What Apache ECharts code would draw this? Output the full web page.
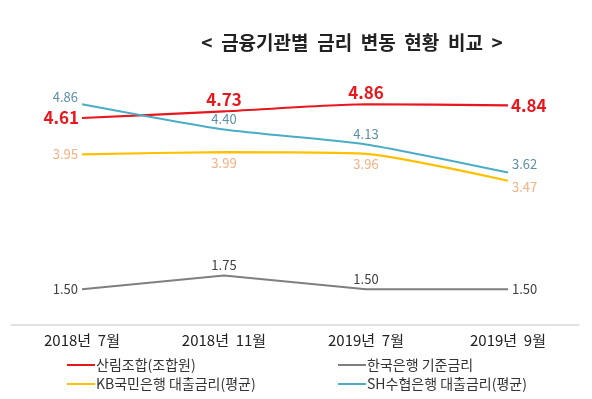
<!DOCTYPE html>
<html>
<head>
<meta charset="utf-8">
<script src="https://cdn.jsdelivr.net/npm/echarts@6/dist/echarts.min.js"></script>
<style>
  html, body { margin: 0; padding: 0; background: #fff; }
  #chart { width: 592px; height: 399px; }
</style>
</head>
<body>
<div id="chart"></div>
<script>
// 데이터
const months = ['2018년  7월', '2018년  11월', '2019년  7월', '2019년  9월']
const sanrim = [4.61, 4.73, 4.86, 4.84]
const bok = [1.50, 1.75, 1.50, 1.50]
const kb = [3.95, 3.99, 3.96, 3.47]
const sh = [4.86, 4.40, 4.13, 3.62]

const seriesNames = ['산림조합(조합원)', '한국은행 기준금리', 'KB국민은행 대출금리(평균)', 'SH수협은행 대출금리(평균)']

const font = '"Noto Sans CJK KR", "Noto Sans", sans-serif'

// 점마다 라벨 위치 지정
const withLabels = (values, positions) =>
  values.map((v, i) => ({
    value: v,
    label: { position: positions[i] }
  }))

const legendStyle = {
  orient: 'vertical',
  top: 353,
  itemGap: 5,
  itemWidth: 28,
  itemHeight: 2,
  icon: 'rect',
  textStyle: { fontFamily: font, fontSize: 14, color: '#333', padding: [0, 0, 0, -4] }
}

const chart = echarts.init(document.getElementById('chart'))

const option = {
  animation: false,
  title: {
    text: '<  금융기관별  금리  변동  현황  비교  >',
    left: 347,
    top: 28,
    textAlign: 'center',
    textStyle: { fontFamily: font, fontSize: 19, fontWeight: 'bold', color: '#222' }
  },
  grid: { left: 11, right: 13, top: 69, bottom: 74 },
  legend: [
    Object.assign({ data: [seriesNames[0], seriesNames[2]], left: 62 }, legendStyle),
    Object.assign({ data: [seriesNames[1], seriesNames[3]], left: 333 }, legendStyle)
  ],
  xAxis: {
    type: 'category',
    data: months,
    boundaryGap: true,
    axisLine: { lineStyle: { color: '#d9d9d9', width: 1.5 } },
    axisTick: { show: false },
    axisLabel: { margin: 8, fontFamily: font, fontSize: 15, color: '#222' }
  },
  yAxis: {
    type: 'value',
    min: 0.85,
    max: 5.5,
    show: false,
    splitLine: { show: false }
  },
  series: [
    {
      name: seriesNames[0],
      type: 'line',
      smooth: 0.2,
      symbol: 'circle',
      symbolSize: 0,
      lineStyle: { color: '#e8161d', width: 2.2 },
      itemStyle: { color: '#e8161d' },
      label: { show: true, formatter: p => p.value.toFixed(2), fontFamily: font, fontSize: 17, fontWeight: 'bold', color: '#e8161d', distance: 3 },
      data: withLabels(sanrim, ['left', 'top', 'top', 'right'])
    },
    {
      name: seriesNames[1],
      type: 'line',
      symbol: 'circle',
      symbolSize: 0,
      lineStyle: { color: '#7f7f7f', width: 2 },
      itemStyle: { color: '#7f7f7f' },
      label: { show: true, formatter: p => p.value.toFixed(2), fontFamily: font, fontSize: 13, color: '#404040', distance: 4 },
      data: withLabels(bok, ['left', 'top', 'top', 'right'])
    },
    {
      name: seriesNames[2],
      type: 'line',
      smooth: 0.2,
      symbol: 'circle',
      symbolSize: 0,
      lineStyle: { color: '#ffc000', width: 2.2 },
      itemStyle: { color: '#ffc000' },
      label: { show: true, formatter: p => p.value.toFixed(2), fontFamily: font, fontSize: 13, color: '#f4b183', distance: 4 },
      data: withLabels(kb, ['left', 'bottom', 'bottom', 'right'])
    },
    {
      name: seriesNames[3],
      type: 'line',
      smooth: 0.2,
      symbol: 'circle',
      symbolSize: 0,
      lineStyle: { color: '#4bacc6', width: 2 },
      itemStyle: { color: '#4bacc6' },
      label: { show: true, formatter: p => p.value.toFixed(2), fontFamily: font, fontSize: 13, color: '#5b8fa8', distance: 4 },
      data: withLabels(sh, ['left', 'top', 'top', 'right'])
    }
  ]
}

// 일부 라벨 미세 위치 조정
option.series[3].data[0].label.offset = [0, -7]
option.series[3].data[3].label.offset = [0, -8]
option.series[2].data[3].label.offset = [0, 6]

chart.setOption(option)
</script>
</body>
</html>
